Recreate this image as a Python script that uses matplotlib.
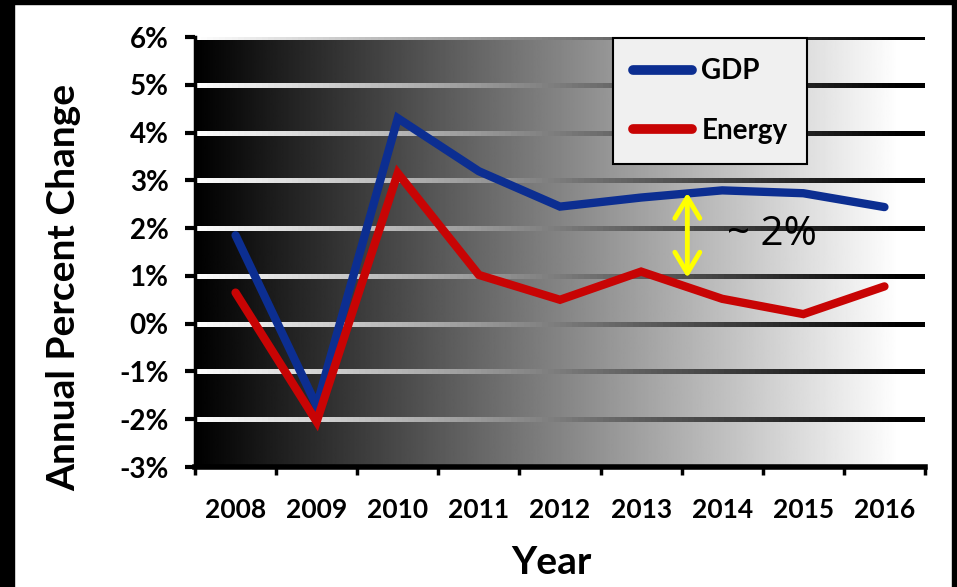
import numpy as np
import matplotlib
matplotlib.use('Agg')
import matplotlib.pyplot as plt
from matplotlib.collections import LineCollection
from matplotlib.patches import Rectangle

years = ['2008', '2009', '2010', '2011', '2012', '2013', '2014', '2015', '2016']
gdp = [1.85, -1.72, 4.3, 3.19, 2.45, 2.64, 2.79, 2.73, 2.44]
energy = [0.65, -2.05, 3.15, 1.02, 0.5, 1.09, 0.52, 0.2, 0.78]
y_ticks = [-3, -2, -1, 0, 1, 2, 3, 4, 5, 6]
y_labels = ['%d%%' % v for v in y_ticks]
gap_label = '~ 2%'

plt.rcParams['font.family'] = ['Lato', 'DejaVu Sans']

fig = plt.figure(figsize=(9.57, 5.87), dpi=100)
fig.patch.set_facecolor('white')
ax = fig.add_axes([195 / 957, 1 - 467 / 587, 730 / 957, 430 / 587])

# black frame round the slide
for (x0, y0, w, h) in [(0, 0, 14, 587), (0, 583, 957, 4), (952, 0, 5, 587)]:
    fig.patches.append(Rectangle((x0 / 957, y0 / 587), w / 957, h / 587,
                                 transform=fig.transFigure, color='black', zorder=10))

# horizontal gradient, black -> white
ramp = np.clip(np.linspace(0, 1, 600) / 0.965, 0, 1)
ax.imshow(ramp[np.newaxis, :], cmap='gray', vmin=0, vmax=1, aspect='auto',
          extent=[0, 1, 0, 1], transform=ax.transAxes, zorder=0)

# gridlines with the inverse shade of the background
xs = np.linspace(0, 1, 121)
shade = 1 - np.clip(((xs[:-1] + xs[1:]) / 2) / 0.965, 0, 1)
for yv in y_ticks[1:]:
    segs = [[(xs[i], yv), (min(xs[i + 1] + 0.004, 1), yv)] for i in range(len(xs) - 1)]
    lc = LineCollection(segs, colors=[(s, s, s) for s in shade], linewidths=2.2,
                        capstyle='butt', antialiaseds=False,
                        transform=ax.get_yaxis_transform(), zorder=1)
    ax.add_collection(lc)

x = np.arange(len(years))
ax.plot(x, gdp, color='#0c2e91', lw=6, solid_capstyle='round',
        solid_joinstyle='miter', label='GDP', zorder=3)
ax.plot(x, energy, color='#c80404', lw=6, solid_capstyle='round',
        solid_joinstyle='miter', label='Energy', zorder=3)

ax.set_xlim(-0.5, 8.5)
ax.set_ylim(-3, 6)

ax.set_yticks(y_ticks)
ax.set_yticklabels(y_labels, fontweight='bold', fontsize=20)
ax.set_xticks(x)
ax.set_xticklabels(years, fontweight='bold', fontsize=19)
ax.set_xticks(np.arange(-0.5, 9, 1), minor=True)
ax.tick_params(axis='x', which='major', length=0, pad=22)
ax.tick_params(axis='x', which='minor', length=6, width=2.5, direction='out')
ax.tick_params(axis='y', length=7, width=3, direction='out', pad=12)

for s in ['top', 'right']:
    ax.spines[s].set_visible(False)
ax.spines['left'].set_linewidth(2.5)
ax.spines['bottom'].set_linewidth(4)
ax.spines['left'].set_zorder(4)
ax.spines['bottom'].set_zorder(4)

fig.text(64 / 957, 1 - 287 / 587, 'Annual Percent Change', rotation=90,
         ha='center', va='center', fontsize=28, fontweight='bold')
fig.text(551 / 957, 1 - 562 / 587, 'Year', ha='center', va='center',
         fontsize=28, fontweight='bold')

# the gap arrow
ax.annotate('', xy=(5.57, 2.74), xytext=(5.57, 0.96),
            arrowprops=dict(arrowstyle='<->,head_length=0.75,head_width=0.45',
                            color='#ffff00', lw=3.5, mutation_scale=20,
                            shrinkA=0, shrinkB=0), zorder=5)
ax.text(6.61, 1.86, gap_label, fontsize=29, ha='center', va='center', zorder=5,
        family=['Open Sans', 'DejaVu Sans'], fontweight='normal', fontstyle='normal')

leg = ax.legend(loc='upper left', bbox_to_anchor=(0.573, 0.997), fancybox=False,
                framealpha=1, facecolor='#f0f0f0', edgecolor='black',
                prop=dict(weight='bold', size=20), handlelength=2.1,
                handletextpad=0.35, borderpad=0.72, labelspacing=1.2,
                borderaxespad=0)
leg.get_frame().set_linewidth(1.5)
for h in leg.legend_handles:
    h.set_linewidth(7)
leg.set_zorder(6)

fig.savefig('out.png', dpi=100)
